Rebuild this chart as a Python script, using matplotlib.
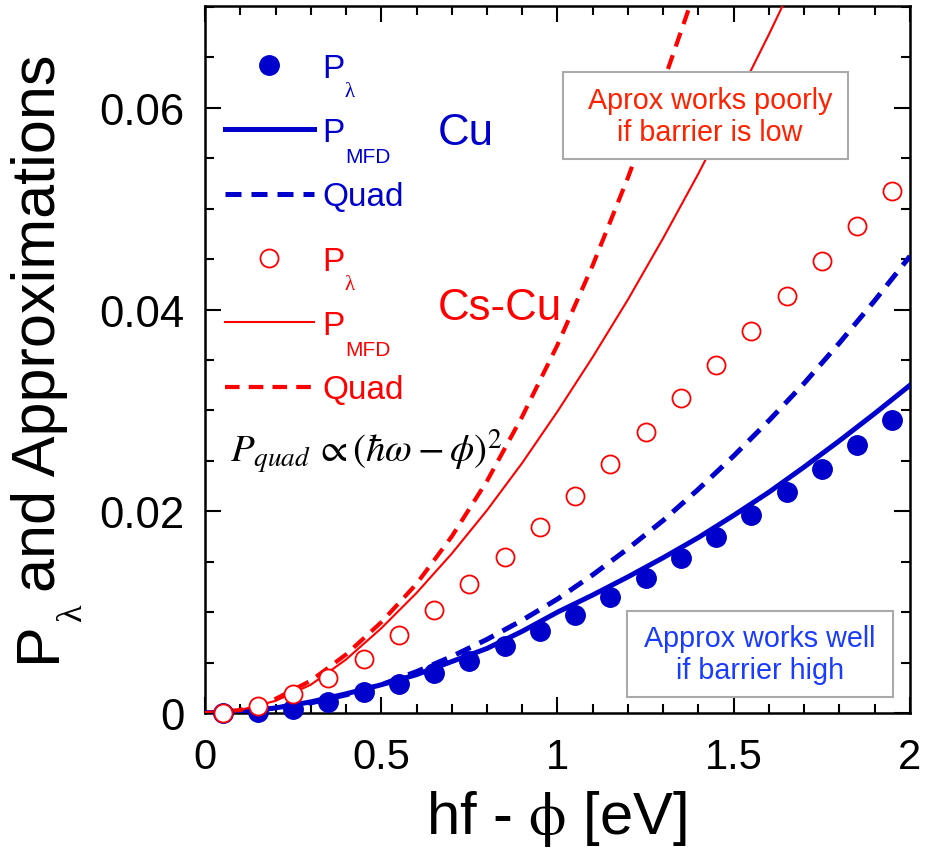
import matplotlib
matplotlib.use("Agg")
import matplotlib.pyplot as plt
from matplotlib.patches import Rectangle
from matplotlib.ticker import MultipleLocator, FuncFormatter

plt.rcParams['font.family'] = ['Liberation Sans', 'DejaVu Sans']

# measured points (photo-emission probability)
x_pts = [0.05, 0.15, 0.25, 0.35, 0.45, 0.55, 0.65, 0.75, 0.85, 0.95,
         1.05, 1.15, 1.25, 1.35, 1.45, 1.55, 1.65, 1.75, 1.85, 1.95]
p_cu = [0.0000, 0.0001, 0.0004, 0.0011, 0.0021, 0.0029, 0.0040, 0.0052, 0.0066, 0.0081,
        0.0097, 0.0115, 0.0134, 0.0154, 0.0175, 0.0196, 0.0219, 0.0242, 0.0266, 0.0291]
p_cscu = [0.0000, 0.0007, 0.0019, 0.0035, 0.0054, 0.0077, 0.0102, 0.0128, 0.0155, 0.0184,
          0.0215, 0.0247, 0.0279, 0.0312, 0.0345, 0.0379, 0.0413, 0.0448, 0.0483, 0.0518]

# model curves
x_fit = [0.0, 0.1, 0.2, 0.3, 0.4, 0.5, 0.6, 0.7, 0.8, 0.9, 1.0,
         1.1, 1.2, 1.3, 1.4, 1.5, 1.6, 1.7, 1.8, 1.9, 2.0]
mfd_cu = [0.0000, 0.0001, 0.0005, 0.0011, 0.0019, 0.0028, 0.0038, 0.0051, 0.0064, 0.0081, 0.0100,
          0.0117, 0.0135, 0.0154, 0.0174, 0.0196, 0.0219, 0.0244, 0.0270, 0.0297, 0.0325]
quad_cu = [0.0000, 0.0001, 0.0005, 0.0010, 0.0018, 0.0028, 0.0041, 0.0056, 0.0073, 0.0092, 0.0113,
           0.0137, 0.0163, 0.0191, 0.0222, 0.0255, 0.0290, 0.0327, 0.0367, 0.0409, 0.0453]
mfd_cscu = [0.0000, 0.0003, 0.0012, 0.0028, 0.0053, 0.0084, 0.0119, 0.0158, 0.0201, 0.0248,
            0.0299, 0.0353, 0.0410, 0.0471, 0.0535, 0.0603, 0.0673, 0.0746]
quad_cscu = [0.0000, 0.0003, 0.0014, 0.0032, 0.0058, 0.0090, 0.0128, 0.0175, 0.0230, 0.0294,
             0.0365, 0.0444, 0.0531, 0.0625, 0.0726]

BLUE = '#0000cc'
RED = '#ff0000'
SERIF = ['Liberation Serif', 'DejaVu Serif']

fig = plt.figure(figsize=(9.28, 8.54), dpi=100)
ax = fig.add_axes([205 / 928, 1 - 714 / 854, 705 / 928, 707 / 854])

l_mfd_cu, = ax.plot(x_fit, mfd_cu, color=BLUE, lw=3.6, zorder=3)
l_quad_cu, = ax.plot(x_fit, quad_cu, color=BLUE, lw=3.6, ls=(0, (3.2, 2)), zorder=3)
l_mfd_cs, = ax.plot(x_fit[:len(mfd_cscu)], mfd_cscu, color=RED, lw=1.5, zorder=3)
l_quad_cs, = ax.plot(x_fit[:len(quad_cscu)], quad_cscu, color=RED, lw=3, ls=(0, (3.5, 2.2)), zorder=3)
l_p_cu, = ax.plot(x_pts, p_cu, 'o', color=BLUE, ms=14, ls='none', zorder=6, clip_on=False)
l_p_cs, = ax.plot(x_pts, p_cscu, 'o', mfc='white', mec=RED, mew=1.3, ms=13, ls='none',
                  zorder=7, clip_on=False)

ax.set_xlim(0, 2)
ax.set_ylim(0, 0.0701)
ax.xaxis.set_major_locator(MultipleLocator(0.5))
ax.xaxis.set_minor_locator(MultipleLocator(0.1))
ax.yaxis.set_major_locator(MultipleLocator(0.02))
ax.yaxis.set_minor_locator(MultipleLocator(0.005))
fmt = FuncFormatter(lambda v, p: '%g' % round(v, 4))
ax.xaxis.set_major_formatter(fmt)
ax.yaxis.set_major_formatter(fmt)
ax.tick_params(which='both', direction='in', top=True, right=True, width=1.5)
ax.tick_params(which='major', length=11.5)
ax.tick_params(which='minor', length=6.5)
ax.tick_params(axis='x', labelsize=30, pad=17)
ax.tick_params(axis='y', labelsize=31.5, pad=15)
for s in ax.spines.values():
    s.set_linewidth(1.8)

ax.set_xlabel(r'hf - $\mathrm{\phi}$ [eV]', fontsize=43, math_fontfamily='stix')
ax.xaxis.set_label_coords(0.498, -0.106)

# y label built from pieces so the subscript can sit low like the original
t_p = fig.text(11 / 928, 192 / 854, 'P', rotation=90, ha='left', va='bottom', fontsize=44)
ax.annotate('λ', xy=(1, 1), xycoords=t_p, xytext=(-9, 0), textcoords='offset points',
            rotation=90, ha='left', va='bottom', fontsize=26, family=SERIF,
            annotation_clip=False)
ax.annotate('and Approximations', xy=(0, 1), xycoords=t_p, xytext=(0, 21),
            textcoords='offset points', rotation=90, ha='left', va='bottom', fontsize=44,
            annotation_clip=False)

# legend
handles = [l_p_cu, l_mfd_cu, l_quad_cu, l_p_cs, l_mfd_cs, l_quad_cs]
labels = ['P', 'P', 'Quad', 'P', 'P', 'Quad']
subs = ['λ', 'MFD', None, 'λ', 'MFD', None]
colors = [BLUE, BLUE, BLUE, RED, RED, RED]
leg = ax.legend(handles, labels, loc='upper left', bbox_to_anchor=(0.028, 0.934),
                frameon=False, fontsize=24, handlelength=2.67, handletextpad=0.27,
                labelspacing=1.0, borderpad=0, borderaxespad=0)
for t, c, sub in zip(leg.get_texts(), colors, subs):
    t.set_color(c)
    if sub == 'λ':
        ax.annotate(sub, xy=(1, 0), xycoords=t, xytext=(0, 1.5), textcoords='offset points',
                    fontsize=15, color=c, ha='left', va='top', family=SERIF, zorder=8)
    elif sub:
        ax.annotate(sub, xy=(1, 0), xycoords=t, xytext=(0, 0.5), textcoords='offset points',
                    fontsize=15, color=c, ha='left', va='top', zorder=8)

ax.text(0.3305, 0.805, 'Cu', color=BLUE, fontsize=31.5, transform=ax.transAxes, va='baseline')
ax.text(0.3305, 0.557, 'Cs-Cu', color=RED, fontsize=31.5, transform=ax.transAxes, va='baseline')
ax.text(0.035, 0.356, r'$P_{quad}\,\propto\left(\hbar\omega - \phi\right)^2$', fontsize=28,
        math_fontfamily='stix', transform=ax.transAxes, va='baseline')

ax.add_patch(Rectangle((0.508, 0.7836), 0.404, 0.1231, transform=ax.transAxes,
                       facecolor='white', edgecolor='#aaaaaa', lw=1.5, zorder=5))
ax.text(0.7163, 0.8444, 'Aprox works poorly\nif barrier is low', color='#ff2200', fontsize=20.7,
        ha='center', va='center', linespacing=1.15, transform=ax.transAxes, zorder=6)
ax.add_patch(Rectangle((0.5986, 0.0226), 0.3773, 0.1217, transform=ax.transAxes,
                       facecolor='white', edgecolor='#aaaaaa', lw=1.5, zorder=5))
ax.text(0.787, 0.0834, 'Approx works well\nif barrier high', color='#1a3cff', fontsize=20.7,
        ha='center', va='center', linespacing=1.15, transform=ax.transAxes, zorder=6)

fig.canvas.draw()
fig.savefig('out.png', dpi=100)
